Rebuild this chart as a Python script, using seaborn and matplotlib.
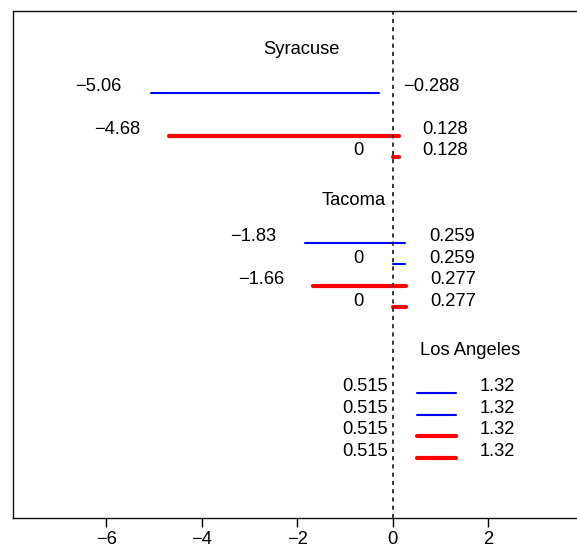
"""Interval chart: lower/upper bounds per city, two methods (blue thin, red thick)."""

import numpy as np
import pandas as pd
import matplotlib
matplotlib.use("Agg")
import matplotlib.pyplot as plt
import seaborn as sns


# City blocks, top to bottom
CITIES = ["Syracuse", "Tacoma", "Los Angeles"]
TITLE_X = [-1.91, -0.82, 1.63]      # where each city name sits

# One entry per interval
row_city = ["Syracuse", "Syracuse", "Syracuse",
            "Tacoma", "Tacoma", "Tacoma", "Tacoma",
            "Los Angeles", "Los Angeles", "Los Angeles", "Los Angeles"]
row_slot = [0, 2, 3, 0, 1, 2, 3, 0, 1, 2, 3]      # line inside the city block
row_method = ["blue", "red", "red",
              "blue", "blue", "red", "red",
              "blue", "blue", "red", "red"]
lower = [-5.06, -4.68, 0, -1.83, 0, -1.66, 0, 0.515, 0.515, 0.515, 0.515]
upper = [-0.288, 0.128, 0.128, 0.259, 0.259, 0.277, 0.277, 1.32, 1.32, 1.32, 1.32]

XTICKS = [-6, -4, -2, 0, 2]

BLOCK = 7       # slots per city block (title, gap, 4 lines, gap)
FS = 13.2


def fmt(v):
    return f"{v:.3g}".replace("-", "\u2212")


def main():
    sns.set_theme(style="white")
    plt.rcParams["font.family"] = ["Liberation Sans", "DejaVu Sans"]
    plt.rcParams["text.color"] = "black"
    plt.rcParams["xtick.color"] = "black"
    plt.rcParams["axes.edgecolor"] = "black"

    y = [CITIES.index(c) * BLOCK + 2 + s for c, s in zip(row_city, row_slot)]

    # long table: two points per interval
    recs = []
    for i in range(len(lower)):
        recs.append({"unit": i, "x": lower[i], "y": y[i], "method": row_method[i]})
        recs.append({"unit": i, "x": upper[i], "y": y[i], "method": row_method[i]})
    df = pd.DataFrame(recs)

    fig = plt.figure(figsize=(5.77, 5.49), dpi=100)
    ax = fig.add_axes([0.0224, 0.0565, 0.9856, 0.9235])

    sns.lineplot(data=df, x="x", y="y", hue="method", size="method",
                 units="unit", estimator=None, sort=False,
                 palette={"blue": "#0000ff", "red": "#ff0000"},
                 sizes={"blue": 1.5, "red": 3.0},
                 legend=False, ax=ax, solid_capstyle="round")

    ax.axvline(0, color="black", lw=1.1, dashes=(2.7, 2.7), zorder=5)

    # bound labels
    for lo, hi, yy in zip(lower, upper, y):
        ax.text(lo - 0.62, yy - 0.3, fmt(lo), ha="right", va="center", fontsize=FS)
        ax.text(hi + 0.5, yy - 0.3, fmt(hi), ha="left", va="center", fontsize=FS)

    for k, (city, tx) in enumerate(zip(CITIES, TITLE_X)):
        ax.text(tx, k * BLOCK, city, ha="center", va="center", fontsize=FS)

    ax.set_xlim(-7.96, 3.96)
    ax.set_ylim(21.8, -1.8)
    ax.set_xticks(XTICKS)
    ax.set_xticklabels([fmt(t) for t in XTICKS])
    ax.set_yticks([])
    ax.set_xlabel("")
    ax.set_ylabel("")
    ax.tick_params(axis="x", direction="out", length=6.5, width=1.0,
                   labelsize=FS, pad=3, colors="black", bottom=True)
    for sp in ax.spines.values():
        sp.set_color("#111111")
        sp.set_linewidth(1.0)
    ax.spines["right"].set_visible(False)

    fig.savefig("out.png", dpi=100, facecolor="white")
    plt.close(fig)


if __name__ == "__main__":
    main()
